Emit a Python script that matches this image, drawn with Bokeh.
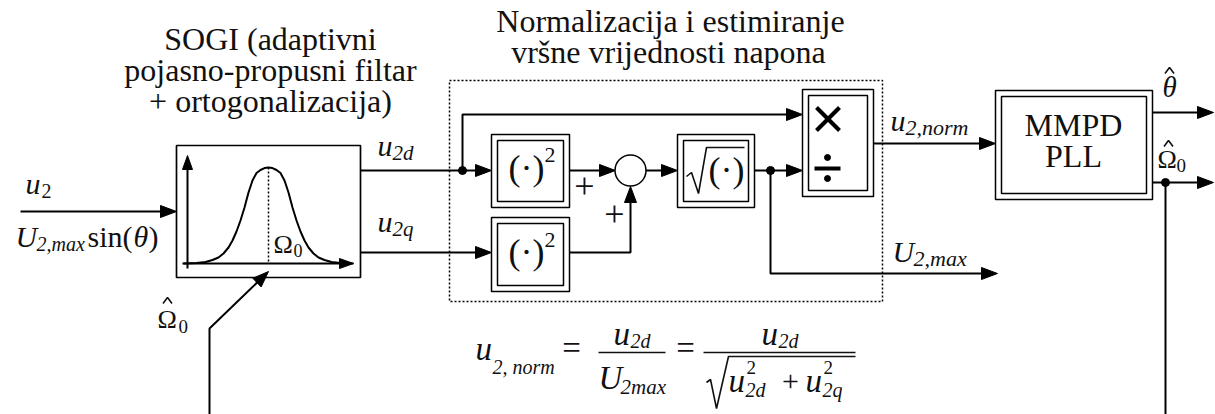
import numpy as np
from bokeh.plotting import figure
from bokeh.models import Range1d, ColumnDataSource
from bokeh.embed import file_html
from bokeh.resources import INLINE
from bokeh.core.properties import value, field

SERIF = "Liberation Serif"
INK = "#111111"

# ---------------- diagram texts (y = baseline in picture pixels) ----------------
title_text = ["SOGI (adaptivni", "pojasno-propusni filtar", "+ ortogonalizacija)",
              "Normalizacija i estimiranje", "vršne vrijednosti napona"]
title_x = [270, 270, 270, 670, 668]
title_y = [51, 82, 113, 33, 64]
title_size = [32] * 5
title_style = ["normal"] * 5
title_align = ["center"] * 5

block_text = ["MMPD", "PLL", "(·)", "2", "(·)", "2", "(·)", "+", "+", "Ω", "0"]
block_x = [1073, 1073, 526, 544, 526, 544, 726, 584, 614, 273, 293]
block_y = [137, 168, 181, 164, 265, 249, 183, 199, 227, 255, 258]
block_size = [32, 32, 36, 22, 36, 22, 36, 36, 36, 26, 18]
block_style = ["normal"] * 11
block_align = ["center", "center", "center", "left", "center", "left", "center",
               "center", "center", "left", "left"]

signal_text = ["u", "2", "U", "2,max", "sin(", "θ", ")",
               "u", "2d", "u", "2q",
               "Ω", "0",
               "u", "2,norm", "U", "2,max",
               "θ", "Ω", "0"]
signal_x = [25, 41, 15, 36, 87, 133, 148,
            377, 392, 377, 392,
            157, 178,
            890, 905, 892, 913,
            1162, 1157, 1176]
signal_y = [195, 199, 248, 252, 248, 248, 248,
            157, 161, 233, 237,
            330, 334,
            132, 136, 263, 267,
            98, 170, 173]
signal_size = [30, 20, 30, 20, 30, 30, 30,
               30, 21, 30, 21,
               26, 19,
               30, 22, 30, 22,
               29, 26, 19]
signal_style = ["italic", "normal", "italic", "italic", "normal", "italic", "normal",
                "italic", "italic", "italic", "italic",
                "normal", "normal",
                "italic", "italic", "italic", "italic",
                "italic", "normal", "normal"]
signal_align = ["left"] * 20

formula_text = ["u", "2, norm", "=", "u", "2d", "U", "2max", "=", "u", "2d",
                "u", "2", "2d", "+", "u", "2", "2q"]
formula_x = [475, 492, 571, 613, 630, 598, 620, 685, 761, 778,
             728, 746, 745, 790, 805, 823, 822]
formula_y = [361, 375, 360, 346, 349, 390, 395, 360, 346, 349,
             393, 375, 398, 393, 393, 375, 398]
formula_size = [33, 20, 33, 33, 20, 33, 21, 33, 33, 20,
                33, 19, 20, 30, 33, 19, 20]
formula_style = ["italic", "italic", "normal", "italic", "italic", "italic", "italic", "normal", "italic", "italic",
                 "italic", "normal", "italic", "normal", "italic", "normal", "italic"]
formula_align = ["left", "left", "center", "left", "left", "left", "left", "center", "left", "left",
                 "left", "left", "left", "center", "left", "left", "left"]

# ---------------- diagram geometry ----------------
sogi_box = [176, 145, 360, 277]          # left, top, right, bottom
group_box = [449, 80, 882, 301]
dbl_names = ["square_d", "square_q", "sqrt", "mul_div", "pll"]
dbl_left = [491, 491, 677, 802, 995]
dbl_top = [134, 217, 134, 89, 90]
dbl_right = [569, 569, 754, 873, 1152]
dbl_bottom = [207, 291, 207, 196, 199]
dbl_inset = 6

wire_xs = [[20, 176], [209, 209, 268], [360, 491], [462, 462, 802], [360, 491],
           [569, 615], [569, 630, 630], [645, 677], [754, 802], [770, 770, 997],
           [873, 995], [1152, 1213], [1152, 1213], [1165, 1165]]
wire_ys = [[211, 211], [414, 328, 271], [170, 170], [170, 114, 114], [252, 252],
           [170, 170], [252, 252, 186], [170, 170], [170, 170], [170, 273, 273],
           [143, 143], [112, 112], [182, 182], [182, 414]]
wire_arrow = [True] * 13 + [False]
dots_x = [462, 770, 1165]
dots_y = [170, 170, 182]
sum_x, sum_y = [630], [170]

# SOGI band-pass icon
curve_center, curve_base = 268, 263
curve_dx = [0, 4, 8, 12, 16, 20, 24, 28, 32, 36, 40, 45, 50, 56, 63, 72, 85]
curve_h = [96, 95.4, 93.5, 90.5, 83, 71, 56, 43, 32, 23, 16, 10, 6, 3.5, 1.5, 0.5, 0]

hat_cx = [167, 1169, 1168]
hat_top = [297, 67, 140]

# ---------------- figure ----------------
p = figure(width=1215, height=414, x_range=Range1d(0, 1215), y_range=Range1d(414, 0),
           output_backend="svg", toolbar_location=None, min_border=0,
           x_axis_location=None, y_axis_location=None)
p.grid.visible = False
p.outline_line_color = None
p.background_fill_color = "white"
p.border_fill_color = "white"

p.quad(left=[sogi_box[0]], top=[sogi_box[1]], right=[sogi_box[2]], bottom=[sogi_box[3]],
       fill_color=None, line_color="black", line_width=1.7)
p.quad(left=[group_box[0]], top=[group_box[1]], right=[group_box[2]], bottom=[group_box[3]],
       fill_color=None, line_color="black", line_width=1.5, line_dash="2 2")
p.quad(left=dbl_left, top=dbl_top, right=dbl_right, bottom=dbl_bottom,
       fill_color=None, line_color="black", line_width=1.5)
p.quad(left=[v + dbl_inset for v in dbl_left], top=[v + dbl_inset for v in dbl_top],
       right=[v - dbl_inset for v in dbl_right], bottom=[v - dbl_inset for v in dbl_bottom],
       fill_color=None, line_color="black", line_width=1.5)


def arrow_geom(xs, ys, L=16.0, hw=6.0):
    x0, y0, x1, y1 = xs[-2], ys[-2], xs[-1], ys[-1]
    d = np.array([x1 - x0, y1 - y0], float)
    d /= np.hypot(*d)
    n = np.array([-d[1], d[0]])
    tip = np.array([x1, y1], float)
    base = tip - L * d
    tri_x = [tip[0], base[0] + hw * n[0], base[0] - hw * n[0]]
    tri_y = [tip[1], base[1] + hw * n[1], base[1] - hw * n[1]]
    end = tip - 0.6 * L * d
    return tri_x, tri_y, list(xs[:-1]) + [end[0]], list(ys[:-1]) + [end[1]]


line_xs, line_ys, head_xs, head_ys = [], [], [], []
for xs, ys, a in zip(wire_xs, wire_ys, wire_arrow):
    if a:
        tx, ty, lx, ly = arrow_geom(xs, ys)
        head_xs.append(tx); head_ys.append(ty)
        line_xs.append(lx); line_ys.append(ly)
    else:
        line_xs.append(xs); line_ys.append(ys)

for xs, ys in [([187, 187], [268, 155]), ([182, 353], [263, 263])]:
    tx, ty, lx, ly = arrow_geom(xs, ys, L=14, hw=5)
    head_xs.append(tx); head_ys.append(ty)
    line_xs.append(lx); line_ys.append(ly)

p.multi_line(line_xs, line_ys, line_color="black", line_width=2)
p.patches(head_xs, head_ys, fill_color="black", line_color="black", line_width=1)

cdx = np.array(curve_dx, float)
ch = np.array(curve_h, float)
cx = np.concatenate([curve_center - cdx[::-1], curve_center + cdx[1:]])
cy = np.concatenate([curve_base - ch[::-1], curve_base - ch[1:]])
p.line(cx, cy, line_color="black", line_width=2)
p.line([curve_center, curve_center], [curve_base - curve_h[0], curve_base],
       line_color="black", line_width=1.5, line_dash="2 2")

p.scatter(sum_x, sum_y, size=31, marker="circle", fill_color="white", line_color="black", line_width=1.5)
p.scatter(dots_x, dots_y, size=8, marker="circle", fill_color="black", line_color="black")

# strokes: radicals, fraction bars, hats
sym_xs = [[686, 691, 698, 706, 744],
          [706, 710, 716, 728, 855],
          [598, 665], [703, 855]]
sym_ys = [[176, 172, 193, 147, 147],
          [382, 379, 408, 356, 356],
          [352, 352], [352, 352]]
for hx, ht in zip(hat_cx, hat_top):
    sym_xs.append([hx - 4.5, hx, hx + 4.5])
    sym_ys.append([ht + 6, ht, ht + 6])
p.multi_line(sym_xs, sym_ys, line_color=INK, line_width=1.6)

# multiply / divide symbols
p.multi_line([[816, 839], [816, 839], [814, 840]], [[107, 130], [130, 107], [168, 168]],
             line_color="black", line_width=4)
p.scatter([827, 827], [157, 178], size=6, marker="circle", fill_color="black", line_color="black")

# texts: Bokeh's "alphabetic" anchor sits about 0.33 em + 2 px above the drawn baseline
all_x = title_x + block_x + signal_x + formula_x
all_base = title_y + block_y + signal_y + formula_y
all_t = title_text + block_text + signal_text + formula_text
all_sz = title_size + block_size + signal_size + formula_size
all_y = [b - (0.33 * s + 2) for b, s in zip(all_base, all_sz)]
all_s = [f"{s}px" for s in all_sz]
all_st = title_style + block_style + signal_style + formula_style
all_a = title_align + block_align + signal_align + formula_align
src = ColumnDataSource(dict(x=all_x, y=all_y, text=all_t, size=all_s, style=all_st, align=all_a))
p.text(x="x", y="y", text="text", source=src, text_font=value(SERIF),
       text_font_size=field("size"), text_font_style=field("style"),
       text_align=field("align"), text_baseline="alphabetic", text_color=INK)

open("out.html", "w").write(file_html(p, INLINE))
